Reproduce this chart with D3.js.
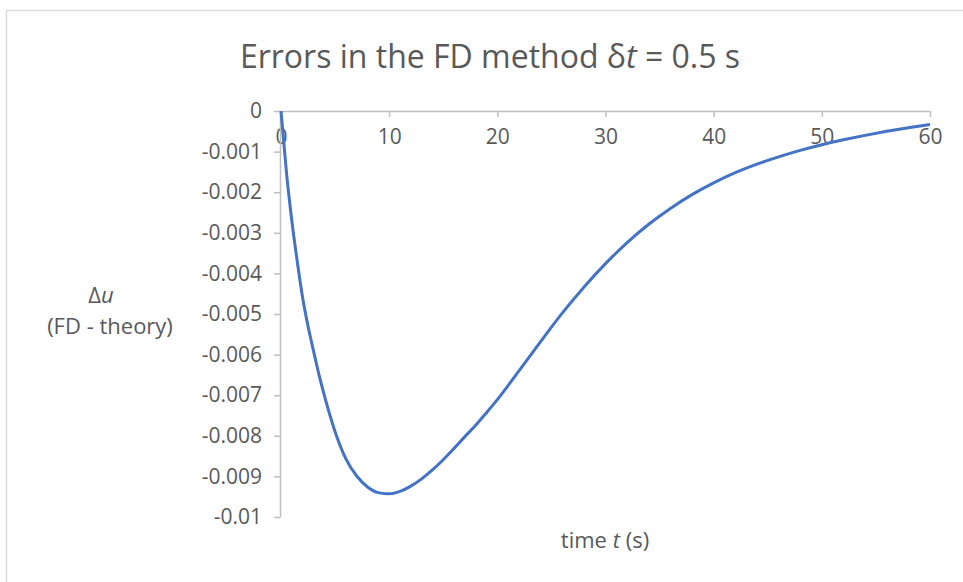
<!DOCTYPE html>
<html>
<head>
<meta charset="utf-8">
<script src="https://cdn.jsdelivr.net/npm/d3@7"></script>
<style>
  body { margin: 0; background: #fff; }
  svg { display: block; }
  .axis path, .axis line { stroke: #BFBFBF; stroke-width: 1.5; }
  .axis text { fill: #595959; font-family: "Open Sans", sans-serif; font-size: 21px; }
</style>
</head>
<body>
<div id="chart"></div>
<script>
// time (s)
const times = [0, 0.5, 1, 1.5, 2, 2.5, 3, 3.5, 4, 5, 6, 7, 8, 9, 10, 11, 12, 13, 14, 15, 16, 17, 18, 19, 20,
  22, 24, 26, 28, 30, 32, 34, 36, 38, 40, 42, 44, 46, 48, 50, 52, 54, 56, 58, 60];
// delta u = FD - theory
const errors = [0, -0.0015, -0.0027, -0.0037, -0.0046, -0.0053, -0.0059, -0.00648, -0.0070, -0.0079, -0.00857,
  -0.00899, -0.00926, -0.0094, -0.00943, -0.00937, -0.00924, -0.00906, -0.00884, -0.00859, -0.00831, -0.00802,
  -0.00774, -0.00743, -0.00711,
  -0.0064, -0.00568, -0.00498, -0.00434, -0.00376, -0.00324, -0.00279, -0.0024, -0.00206, -0.00177, -0.00152,
  -0.00131, -0.00113, -0.00097, -0.00083, -0.00071, -0.0006, -0.0005, -0.00041, -0.00033];
const xTicks = [0, 10, 20, 30, 40, 50, 60];
const yTicks = [0, -0.001, -0.002, -0.003, -0.004, -0.005, -0.006, -0.007, -0.008, -0.009, -0.01];
const yTickLabels = ["0", "-0.001", "-0.002", "-0.003", "-0.004", "-0.005", "-0.006", "-0.007", "-0.008", "-0.009", "-0.01"];

const width = 963, height = 582;
const data = times.map((t, i) => ({ t: t, v: errors[i] }));

const svg = d3.select("#chart").append("svg")
  .attr("width", width)
  .attr("height", height);

// chart border
svg.append("rect")
  .attr("x", 6.5).attr("y", 10.5)
  .attr("width", 1000).attr("height", 1000)
  .attr("fill", "none")
  .attr("stroke", "#D9D9D9")
  .attr("stroke-width", 1.5);

const x = d3.scaleLinear().domain([0, 60]).range([281, 930]);
const y = d3.scaleLinear().domain([-0.01, 0]).range([517, 111]);

// x axis sits at y = 0 (top of plot)
svg.append("g")
  .attr("class", "axis")
  .attr("transform", `translate(0,${y(0)})`)
  .call(d3.axisBottom(x).tickValues(xTicks).tickSize(6).tickSizeOuter(0).tickPadding(12)
    .tickFormat(d => d));

svg.append("g")
  .attr("class", "axis")
  .attr("transform", `translate(${x(0) - 1},0)`)
  .call(d3.axisLeft(y).tickValues(yTicks).tickSize(6).tickSizeOuter(0).tickPadding(12)
    .tickFormat((d, i) => yTickLabels[i]));

const line = d3.line()
  .x(d => x(d.t))
  .y(d => y(d.v))
  .curve(d3.curveMonotoneX);

svg.append("path")
  .datum(data)
  .attr("d", line)
  .attr("fill", "none")
  .attr("stroke", "#4472C4")
  .attr("stroke-width", 3)
  .attr("stroke-linejoin", "round");

// title
const title = svg.append("text")
  .attr("x", 490).attr("y", 68)
  .attr("text-anchor", "middle")
  .attr("fill", "#595959")
  .style("font-family", "'Open Sans', sans-serif")
  .style("font-size", "32px");
title.append("tspan").text("Errors in the FD method δ");
title.append("tspan").style("font-style", "italic").text("t");
title.append("tspan").text(" = 0.5 s");

// y axis title
const yt1 = svg.append("text")
  .attr("x", 101).attr("y", 303)
  .attr("text-anchor", "middle")
  .attr("fill", "#595959")
  .style("font-family", "'Open Sans', sans-serif")
  .style("font-size", "22px");
yt1.append("tspan").text("Δ");
yt1.append("tspan").style("font-style", "italic").text("u");

svg.append("text")
  .attr("x", 110).attr("y", 334)
  .attr("text-anchor", "middle")
  .attr("fill", "#595959")
  .style("font-family", "'Open Sans', sans-serif")
  .style("font-size", "22px")
  .text("(FD - theory)");

// x axis title
const xt = svg.append("text")
  .attr("x", 605).attr("y", 548)
  .attr("text-anchor", "middle")
  .attr("fill", "#595959")
  .style("font-family", "'Open Sans', sans-serif")
  .style("font-size", "22px");
xt.append("tspan").text("time ");
xt.append("tspan").style("font-style", "italic").text("t");
xt.append("tspan").text(" (s)");
</script>
</body>
</html>
